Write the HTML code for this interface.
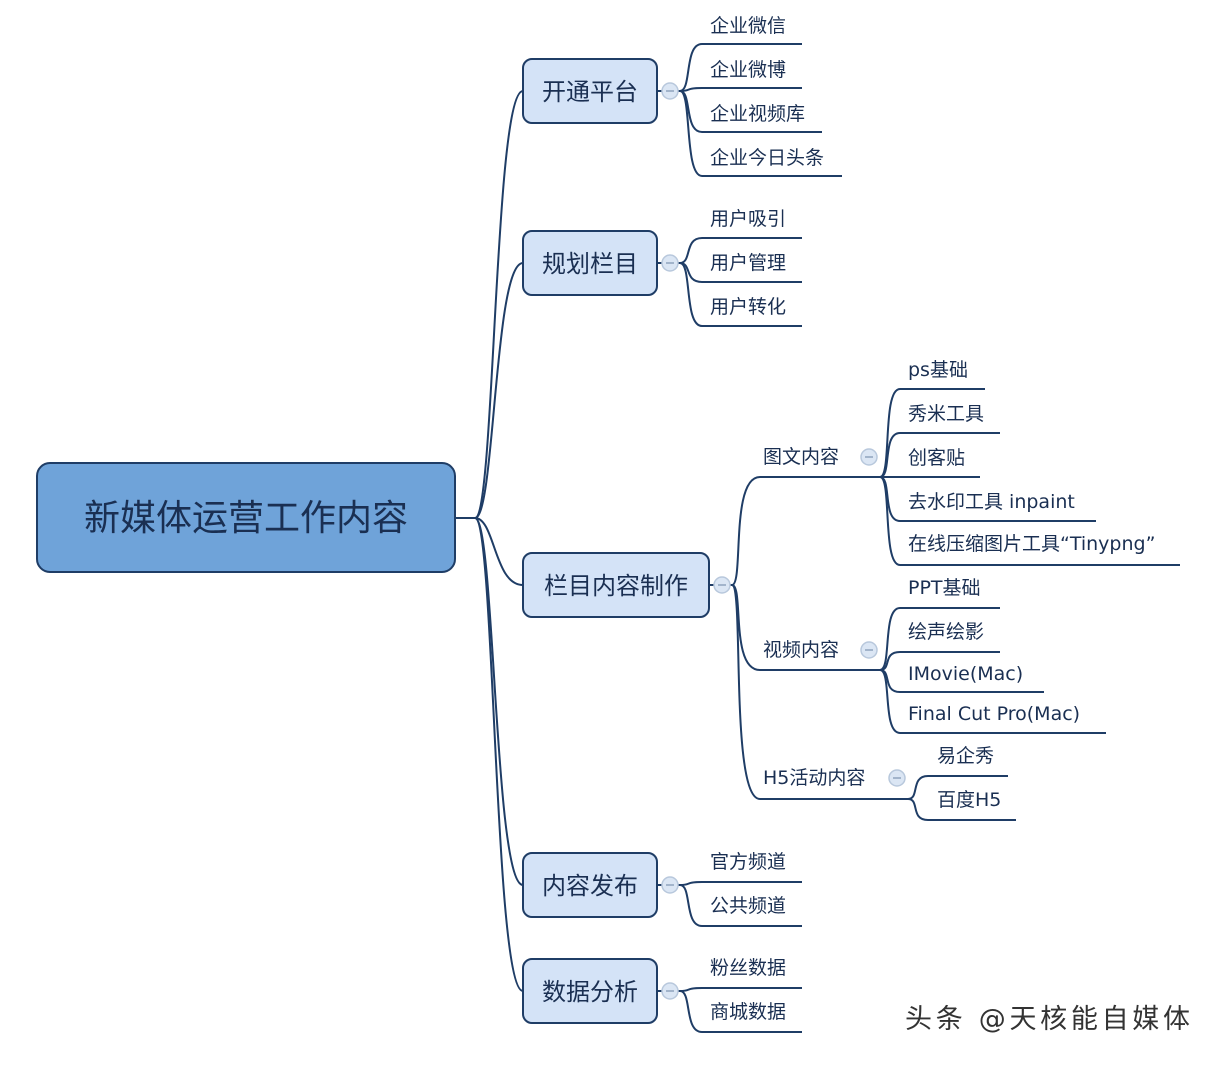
<!DOCTYPE html>
<html><head><meta charset="utf-8"><style>
body{margin:0;background:#fff;}
svg text{font-family:"DejaVu Sans","Noto Sans CJK SC",sans-serif;fill:#1a2f52;}
</style></head><body>
<svg width="1218" height="1062" viewBox="0 0 1218 1062" xmlns="http://www.w3.org/2000/svg">
<g fill="none" stroke="#1f3d66" stroke-width="2">
<path d="M455 518 L475 518 C495 518 494 91 523 91"/>
<path d="M475 518 C495 518 494 263 523 263"/>
<path d="M475 518 C495 518 494 585 523 585"/>
<path d="M475 518 C495 518 494 885 523 885"/>
<path d="M475 518 C495 518 494 991 523 991"/>
<path d="M657 91 L680 91"/>
<path d="M680 91 C692 91 684 44 702 44 L802 44"/>
<path d="M680 91 C692 91 684 88 702 88 L802 88"/>
<path d="M680 91 C692 91 684 132 702 132 L822 132"/>
<path d="M680 91 C692 91 684 176 702 176 L842 176"/>
<path d="M657 263 L680 263"/>
<path d="M680 263 C692 263 684 238 702 238 L802 238"/>
<path d="M680 263 C692 263 684 282 702 282 L802 282"/>
<path d="M680 263 C692 263 684 326 702 326 L802 326"/>
<path d="M709 585 L732 585"/>
<path d="M732 585 C744 585 730 477 760 477 L880 477"/>
<path d="M732 585 C744 585 730 670 760 670 L880 670"/>
<path d="M732 585 C744 585 730 799 760 799 L908 799"/>
<path d="M880 477 C892 477 882 389 900 389 L985 389"/>
<path d="M880 477 C892 477 882 433 900 433 L1000 433"/>
<path d="M880 477 L980 477"/>
<path d="M880 477 C892 477 882 521 900 521 L1096 521"/>
<path d="M880 477 C892 477 882 565 900 565 L1180 565"/>
<path d="M880 670 C892 670 882 608 900 608 L1000 608"/>
<path d="M880 670 C892 670 882 652 900 652 L1000 652"/>
<path d="M880 670 C892 670 882 692 900 692 L1044 692"/>
<path d="M880 670 C892 670 882 733 900 733 L1106 733"/>
<path d="M908 799 C920 799 910 776 928 776 L1008 776"/>
<path d="M908 799 C920 799 910 820 928 820 L1016 820"/>
<path d="M657 885 L680 885"/>
<path d="M680 885 C692 885 684 882 702 882 L802 882"/>
<path d="M680 885 C692 885 684 926 702 926 L802 926"/>
<path d="M657 991 L680 991"/>
<path d="M680 991 C692 991 684 988 702 988 L802 988"/>
<path d="M680 991 C692 991 684 1032 702 1032 L802 1032"/>
</g>
<rect x="37" y="463" width="418" height="109" rx="13" fill="#6fa3d9" stroke="#1f3d66" stroke-width="2"/>
<text x="246" y="530" font-size="36" text-anchor="middle">新媒体运营工作内容</text>
<g fill="#d4e3f7" stroke="#1f3d66" stroke-width="2">
<rect x="523" y="59" width="134" height="64" rx="9"/>
<rect x="523" y="231" width="134" height="64" rx="9"/>
<rect x="523" y="553" width="186" height="64" rx="9"/>
<rect x="523" y="853" width="134" height="64" rx="9"/>
<rect x="523" y="959" width="134" height="64" rx="9"/>
</g>
<g font-size="24" text-anchor="middle">
<text x="590" y="100">开通平台</text>
<text x="590" y="272">规划栏目</text>
<text x="616" y="594">栏目内容制作</text>
<text x="590" y="894">内容发布</text>
<text x="590" y="1000">数据分析</text>
</g>
<g fill="#dbe6f4" stroke="#b8c8dc" stroke-width="1.5">
<circle cx="670" cy="91" r="8"/><circle cx="670" cy="263" r="8"/>
<circle cx="722" cy="585" r="8"/><circle cx="670" cy="885" r="8"/>
<circle cx="670" cy="991" r="8"/><circle cx="869" cy="457" r="8"/>
<circle cx="869" cy="650" r="8"/><circle cx="897" cy="778" r="8"/>
</g>
<g stroke="#8fa3bd" stroke-width="1.5">
<path d="M666 91h8M666 263h8M718 585h8M666 885h8M666 991h8M865 457h8M865 650h8M893 778h8"/>
</g>
<g font-size="19">
<text x="710" y="32">企业微信</text>
<text x="710" y="76">企业微博</text>
<text x="710" y="120">企业视频库</text>
<text x="710" y="164">企业今日头条</text>
<text x="710" y="225">用户吸引</text>
<text x="710" y="269">用户管理</text>
<text x="710" y="313">用户转化</text>
<text x="763" y="463">图文内容</text>
<text x="763" y="656">视频内容</text>
<text x="763" y="784">H5活动内容</text>
<text x="908" y="376">ps基础</text>
<text x="908" y="420">秀米工具</text>
<text x="908" y="464">创客贴</text>
<text x="908" y="508">去水印工具 inpaint</text>
<text x="908" y="550">在线压缩图片工具“Tinypng”</text>
<text x="908" y="594">PPT基础</text>
<text x="908" y="638">绘声绘影</text>
<text x="908" y="680">IMovie(Mac)</text>
<text x="908" y="720">Final Cut Pro(Mac)</text>
<text x="937" y="762">易企秀</text>
<text x="937" y="806">百度H5</text>
<text x="710" y="868">官方频道</text>
<text x="710" y="912">公共频道</text>
<text x="710" y="974">粉丝数据</text>
<text x="710" y="1018">商城数据</text>
</g>
<text x="905" y="1028" font-size="27" textLength="285" style="fill:#333;stroke:#fff;stroke-width:3;paint-order:stroke">头条 @天核能自媒体</text>
</svg>
</body></html>
